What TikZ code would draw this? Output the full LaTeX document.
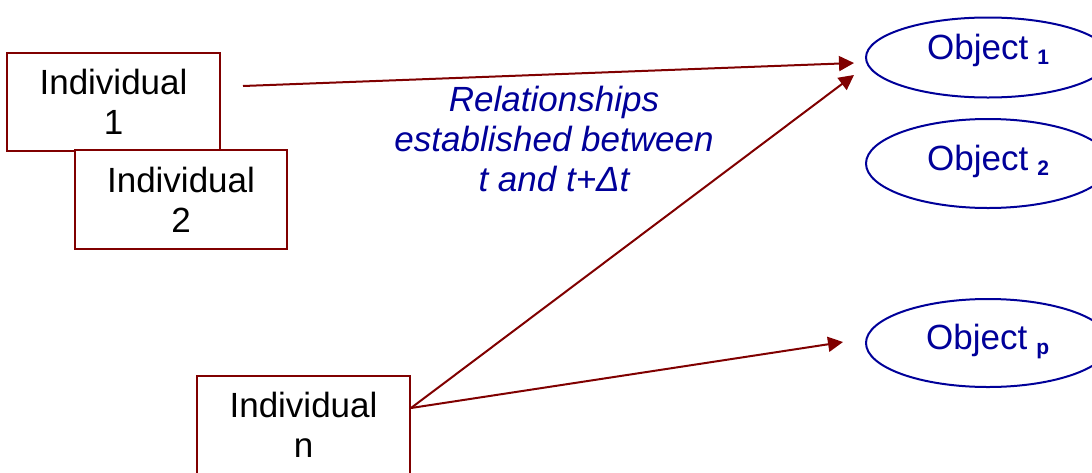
\documentclass[tikz,border=0pt]{standalone}
\usepackage{fontspec}
\setmainfont{Liberation Sans}
\usetikzlibrary{shapes.geometric,arrows.meta}
\definecolor{boxred}{RGB}{128,0,0}
\definecolor{objblue}{RGB}{0,0,153}
\tikzset{
  indbox/.style={draw=boxred, line width=2pt, fill=white, rectangle, inner sep=0pt,
    align=center, font=\fontsize{35}{40}\selectfont, text=black},
  objell/.style={draw=objblue, line width=2pt, ellipse, inner sep=0pt},
  objtext/.style={anchor=base west, inner sep=0pt, text=objblue, font=\fontsize{35}{40}\selectfont},
  rel/.style={draw=boxred, line width=2pt, -{Triangle[length=15pt,width=15pt]}},
  reltext/.style={align=center, inner sep=0pt, text=objblue, font=\fontsize{35}{40}\selectfont\itshape}
}
\newcommand{\objsub}[1]{\hspace{9pt}\raisebox{-5pt}{\fontsize{21}{21}\selectfont\bfseries #1}}
\begin{document}
\begin{tikzpicture}[x=1pt,y=-1pt]
\useasboundingbox (0,0) rectangle (1092,472);
\clip (0,0) rectangle (1092,472);
% boxes
\node[indbox, minimum width=213pt, minimum height=98pt] (b1) at (113.5,102) {Individual\\1};
\node[indbox, minimum width=212pt, minimum height=99pt] (b2) at (181,199.5) {Individual\\2};
\node[indbox, minimum width=213pt, minimum height=98pt] (bn) at (303.5,425) {Individual\\n};
% ellipses
\node[objell, minimum width=244pt, minimum height=80pt] (o1) at (988,57.5) {};
\node[objell, minimum width=244pt, minimum height=89pt] (o2) at (988,163.5) {};
\node[objell, minimum width=244pt, minimum height=88pt] (op) at (988,343) {};
\node[objtext] (o1t) at (927,59) {Object\objsub{1}};
\node[objtext] (o2t) at (927,170) {Object\objsub{2}};
\node[objtext] (opt) at (926,349) {Object\objsub{p}};
% label
\node[reltext] (lab) at (554,139) {Relationships\\established between\\t and t+\textit{Δ}t};
% connectors
\coordinate (s1) at ([xshift=22pt,yshift=16pt]b1.east);
\coordinate (sn) at ([yshift=17pt]bn.east);
\coordinate (e1) at ([xshift=-11pt,yshift=-5.5pt]o1.west);
\coordinate (e2) at ([xshift=-11pt,yshift=-17.5pt]o1.west);
\coordinate (ep) at ([xshift=-22pt,yshift=1pt]op.west);
\draw[rel] (s1) -- (e1);
\draw[rel] (sn) -- (e2);
\draw[rel] (sn) -- (ep);
\end{tikzpicture}
\end{document}
